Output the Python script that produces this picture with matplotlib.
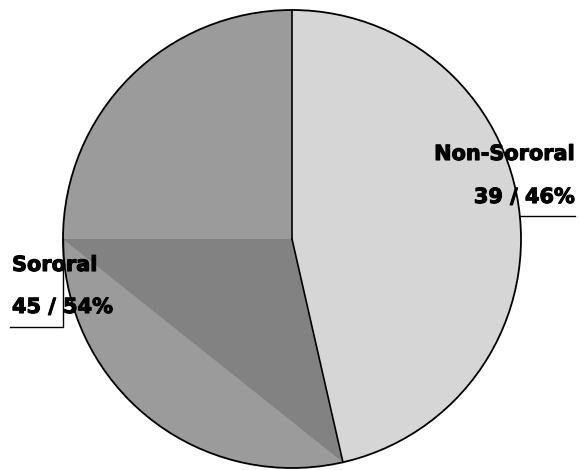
import matplotlib
matplotlib.use('Agg')
import matplotlib.pyplot as plt
from matplotlib.patches import Polygon, Circle
import matplotlib.patheffects as pe
import numpy as np

# data
labels = ['Non-Sororal', 'Sororal']
counts = [39, 45]
colors = ['#d6d6d6', '#9b9b9b']

total = sum(counts)
pcts = [int(round(100.0 * c / total)) for c in counts]

W, H = 579, 470
fig = plt.figure(figsize=(W / 100, H / 100), dpi=100)
ax = fig.add_axes([0, 0, 1, 1])

cx, cy, r = 292, H - 239, 229

wedges, _ = ax.pie(counts, colors=colors, startangle=90, counterclock=False,
                   center=(cx, cy), radius=r, frame=True,
                   wedgeprops=dict(linewidth=0))
ax.set_xlim(0, W)
ax.set_ylim(0, H)
ax.set_aspect('equal')
ax.axis('off')

# gradient-ish shading inside the Sororal slice
end_ang = np.deg2rad(wedges[1].theta2)
left = (cx - r, cy)
bot = (cx + r * np.cos(end_ang), cy + r * np.sin(end_ang))
ax.add_patch(Polygon([(cx, cy), left, bot], closed=True, fc='#828282', ec='none', zorder=3))

# outline and borders
ax.add_patch(Circle((cx, cy), r, fc='none', ec='black', lw=1.3, zorder=4))
ax.plot([cx, cx], [cy, cy + r], color='black', lw=1.2, zorder=4)
ax.plot([cx, bot[0]], [cy, bot[1]], color='black', lw=1.2, zorder=4)

# labels
fs = 15
kw = dict(fontsize=fs, fontweight='bold', va='baseline', zorder=6,
          path_effects=[pe.withStroke(linewidth=0.8, foreground='black')])
ax.text(575, H - 160, labels[0], ha='right', **kw)
ax.text(575, H - 203, '%d / %d%%' % (counts[0], pcts[0]), ha='right', **kw)
ax.text(12, H - 271, labels[1], ha='left', **kw)
ax.text(12, H - 313, '%d / %d%%' % (counts[1], pcts[1]), ha='left', **kw)

# leader lines
ly = H - 216
lx = cx + np.sqrt(r ** 2 - (ly - cy) ** 2)
ax.plot([lx, 575], [ly, ly], color='black', lw=1, zorder=5)
ax.plot([cx - r, cx - r, 10], [cy, H - 327, H - 327], color='black', lw=1, zorder=5)

fig.savefig('out.png', dpi=100)
